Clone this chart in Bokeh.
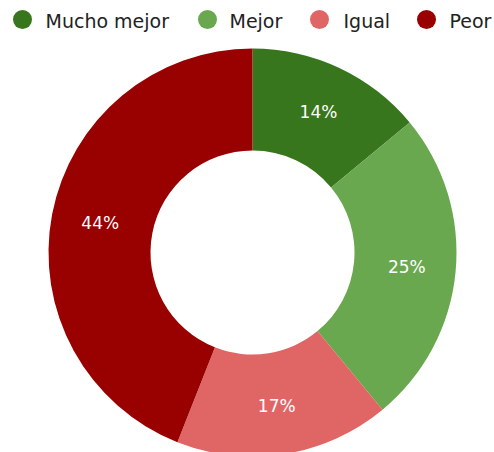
import math
from bokeh.plotting import figure
from bokeh.models import ColumnDataSource, Range1d
from bokeh.core.properties import value
from bokeh.embed import file_html
from bokeh.resources import INLINE

categories = ["Mucho mejor", "Mejor", "Igual", "Peor"]
shares = [14, 25, 17, 44]
colors = ["#38761d", "#6aa84f", "#e06666", "#990000"]

W, H = 494, 452
p = figure(width=W, height=H, output_backend="svg", toolbar_location=None,
           x_range=Range1d(0, W), y_range=Range1d(0, H),
           min_border=0, outline_line_color=None)
p.axis.visible = False
p.grid.visible = False

cx, cy = 252, 200
R_out, R_in = 204, 102

total = sum(shares)
starts, ends, lx, ly, labels = [], [], [], [], []
acc = 0.0
for s in shares:
    a0 = math.pi / 2 - 2 * math.pi * acc / total
    a1 = math.pi / 2 - 2 * math.pi * (acc + s) / total
    starts.append(a0)
    ends.append(a1)
    mid = (a0 + a1) / 2
    lr = 155
    lx.append(cx + lr * math.cos(mid))
    ly.append(cy + lr * math.sin(mid))
    labels.append(f"{round(100 * s / total)}%")
    acc += s

src = ColumnDataSource(dict(start=starts, end=ends, color=colors,
                            lx=lx, ly=ly, label=labels))
p.annular_wedge(x=cx, y=cy, inner_radius=R_in, outer_radius=R_out,
                start_angle="start", end_angle="end", direction="clock",
                fill_color="color", line_color=None, source=src)
p.text(x="lx", y="ly", text="label", source=src, text_color="white",
       text_font=value("DejaVu Sans"), text_font_size="17px",
       text_align="center", text_baseline="middle")

# legend (manual, top row)
circle_x = [22, 207, 319, 426]
text_x = [45, 229, 343, 449]
leg = ColumnDataSource(dict(cxs=circle_x, txs=text_x, name=categories, color=colors))
p.scatter(x="cxs", y=433, size=19, marker="circle", fill_color="color",
          line_color=None, source=leg)
p.text(x="txs", y=432, text="name", source=leg, text_color="#222222",
       text_font=value("DejaVu Sans"), text_font_size="19px",
       text_align="left", text_baseline="middle")

open("out.html", "w").write(file_html(p, INLINE))
